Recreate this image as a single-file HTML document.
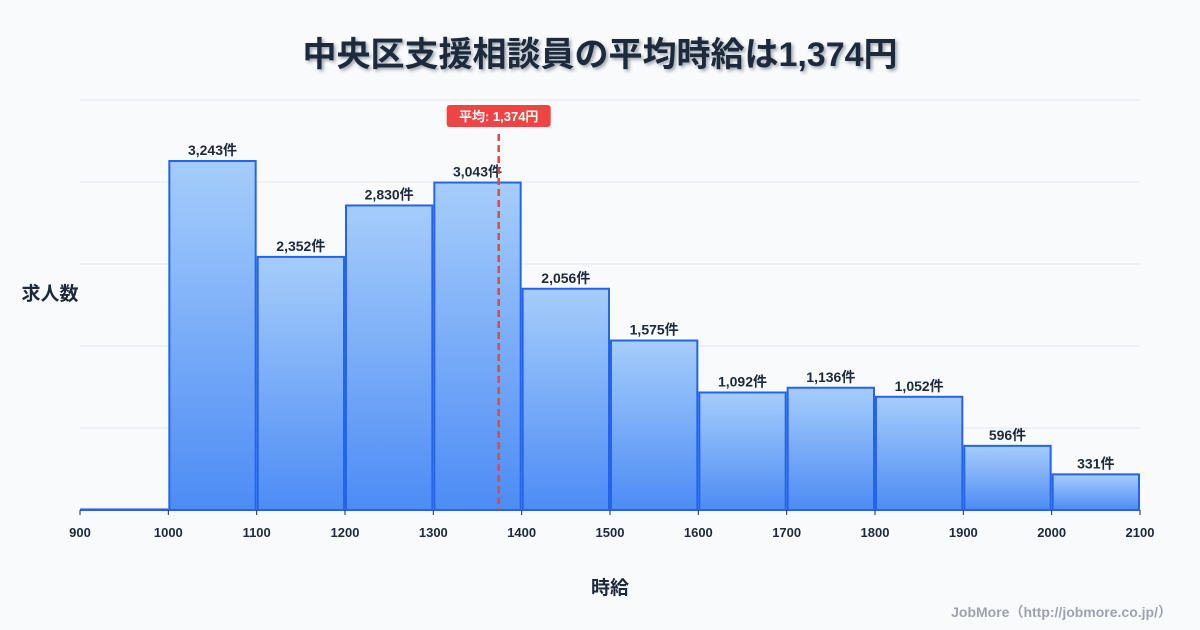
<!DOCTYPE html>
<html><head><meta charset="utf-8"><style>
body{margin:0;background:#f8fafc;}
svg{display:block;font-family:"Liberation Sans","Noto Sans CJK JP",sans-serif;}
</style></head><body>
<svg width="1200" height="630" viewBox="0 0 1200 630" id="chart">
<defs><linearGradient id="g" x1="0" y1="0" x2="0" y2="1"><stop offset="0" stop-color="#a6cdfb"/><stop offset="1" stop-color="#4d8cf5"/></linearGradient>
<filter id="sh" x="-5%" y="-20%" width="110%" height="140%"><feDropShadow dx="2" dy="2" stdDeviation="1.5" flood-color="#334155" flood-opacity="0.45"/></filter></defs>
<rect width="1200" height="630" fill="#f8fafc"/>
<text x="600" y="66" text-anchor="middle" font-size="34" font-weight="bold" fill="#1e293b" filter="url(#sh)">中央区支援相談員の平均時給は1,374円</text>
<text x="50" y="300" text-anchor="middle" font-size="19" font-weight="bold" fill="#1e293b">求人数</text>
<text x="610" y="594" text-anchor="middle" font-size="19" font-weight="bold" fill="#1e293b">時給</text>
<text x="1172" y="617" text-anchor="end" font-size="14" font-weight="bold" fill="#9ca3af">JobMore（http://jobmore.co.jp/）</text>
<g id="grid"></g><g id="bars"></g><g id="axis"></g><g id="mean"></g>
</svg>
<script>
const binStarts=[900,1000,1100,1200,1300,1400,1500,1600,1700,1800,1900,2000];
const counts=[5,3243,2352,2830,3043,2056,1575,1092,1136,1052,596,331];
const labels=["","3,243件","2,352件","2,830件","3,043件","2,056件","1,575件","1,092件","1,136件","1,052件","596件","331件"];
const xTicks=[900,1000,1100,1200,1300,1400,1500,1600,1700,1800,1900,2000,2100];
const meanValue=1374;
const meanLabel="平均: 1,374円";
const yMax=3810, binW=100;
const X0=80,X1=1140,Y0=510,Y1=100;
const x=v=>X0+(v-900)/(2100-900)*(X1-X0);
const y=v=>Y0-v/yMax*(Y0-Y1);
const NS="http://www.w3.org/2000/svg";
function mk(t,a,p){const e=document.createElementNS(NS,t);for(const k in a)e.setAttribute(k,a[k]);p.appendChild(e);return e;}
const grid=document.getElementById('grid');
for(let i=0;i<=5;i++){const yy=Y0-i*(Y0-Y1)/5;
const l=mk('line',{x1:X0,x2:X1,y1:yy,y2:yy,stroke:'#e2e8f0','stroke-width':1},grid);

}
const bars=document.getElementById('bars');
binStarts.forEach((s,i)=>{const xa=x(s)+1,xb=x(s+binW)-1,yt=y(counts[i]);
const r=mk('rect',{x:xa,y:yt,width:xb-xa,height:Y0-yt,fill:'url(#g)',stroke:'#2563eb','stroke-width':2},bars);


if(labels[i]){const t=mk('text',{x:(xa+xb)/2,y:yt-6,'text-anchor':'middle','font-size':14,'font-weight':'bold',fill:'#1e293b'},bars);t.textContent=labels[i];

}});
const ax=document.getElementById('axis');
xTicks.forEach(v=>{const l=mk('line',{x1:x(v),x2:x(v),y1:Y0,y2:Y0+5,stroke:'#1e293b','stroke-width':1},ax);


const t=mk('text',{x:x(v),y:537,'text-anchor':'middle','font-size':13,'font-weight':'bold',fill:'#1e293b'},ax);t.textContent=v;

});
const mg=document.getElementById('mean');const mx=x(meanValue);
const ml=mk('line',{x1:mx,x2:mx,y1:134,y2:Y0,stroke:'#e04848','stroke-width':2.5,'stroke-dasharray':'7,4'},mg);


const mr=mk('rect',{x:mx-52,y:105,width:104,height:22,rx:3,fill:'#ef4444'},mg);


const mt=mk('text',{x:mx,y:121,'text-anchor':'middle','font-size':13,'font-weight':'bold',fill:'#ffffff'},mg);mt.textContent=meanLabel;


</script>
</body></html>
